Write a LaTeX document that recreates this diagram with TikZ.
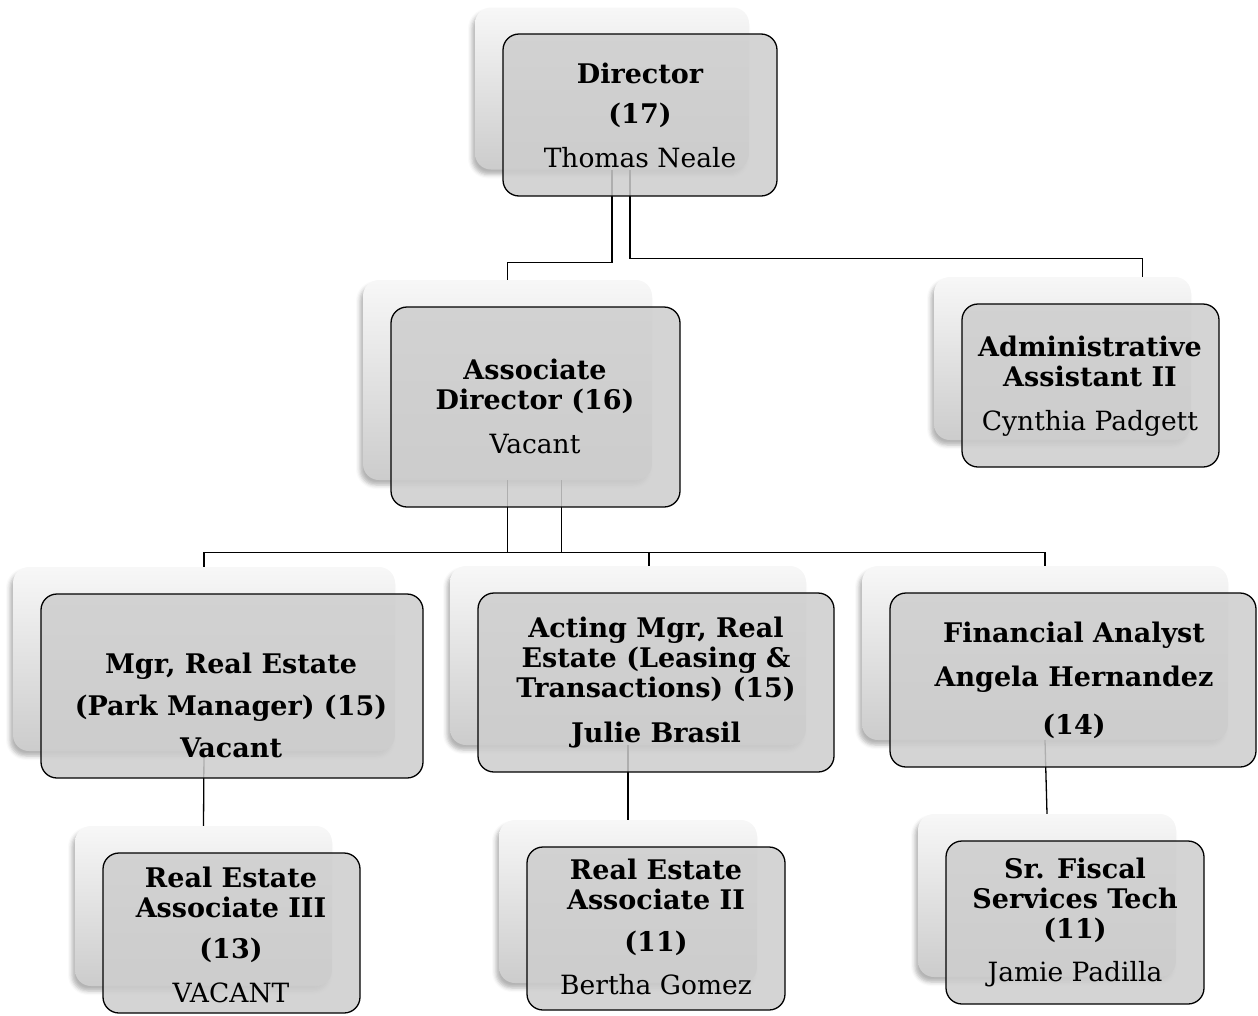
\documentclass[tikz,border=0pt]{standalone}
\usepackage{fontspec}
\setmainfont{DejaVu Serif}
\usetikzlibrary{shadows.blur}
\definecolor{boxfill}{HTML}{CDCDCD}
\newcommand\pname[1]{{\fontsize{26.5}{30}\selectfont\mdseries #1}}
\begin{document}
\begin{tikzpicture}[x=1pt,y=-1pt,
  ghost/.style={rectangle, rounded corners=16pt, inner sep=0pt, draw=none,
    top color=white!97!black, middle color=white!94!black, bottom color=white!80!black,
    blur shadow={shadow xshift=-3pt, shadow yshift=-5pt, shadow blur radius=4pt, shadow opacity=30}},
  front/.style={rectangle, rounded corners=16pt, inner sep=0pt, draw=black, line width=1.3pt,
    fill=boxfill, fill opacity=0.85},
  link/.style={draw=black, line width=1.3pt},
  lbl/.style={align=center, inner sep=0pt, text=black,
    font=\fontsize{27}{30}\selectfont\bfseries}]
\useasboundingbox (0,0) rectangle (1258,1015);

% back plates of the boxes
\node[ghost, minimum width=274, minimum height=162] (dirG)  at (612,88.5) {};
\node[ghost, minimum width=289, minimum height=200] (adirG) at (507.5,380) {};
\node[ghost, minimum width=257, minimum height=163] (admG)  at (1062.5,358.5) {};
\node[ghost, minimum width=382, minimum height=184] (mgrG)  at (204,659) {};
\node[ghost, minimum width=356, minimum height=179] (actG)  at (628,655.5) {};
\node[ghost, minimum width=366, minimum height=174] (finG)  at (1045,653) {};
\node[ghost, minimum width=257, minimum height=160] (r3G)   at (203.5,906) {};
\node[ghost, minimum width=258, minimum height=163] (r2G)   at (628,901.5) {};
\node[ghost, minimum width=258, minimum height=163] (fisG)  at (1047,895.5) {};

% reporting lines
\draw[link] (dirG.south) -- ++(0,93) -| (adirG.north);
\draw[link] ([xshift=18pt]dirG.south) -- ++(0,89) -| ([xshift=80pt]admG.north);
\draw[link] (adirG.south) -- ++(0,72) -| (mgrG.north);
\draw[link] ([xshift=54pt]adirG.south) -- ++(0,72) -| ([xshift=21pt]actG.north);
\draw[link] ([xshift=54pt]adirG.south) -- ++(0,72) -| (finG.north);
\draw[link] (adirG.south) ++(0,72) -- ++(54,0);
\draw[link] (mgrG.south) -- (r3G.north);
\draw[link] (actG.south) -- (r2G.north);
\draw[link] (finG.south) -- (fisG.north);

% front boxes
\node[front, minimum width=274, minimum height=162] (dir)  at (640,115) {};
\node[front, minimum width=289, minimum height=200] (adir) at (535.5,407) {};
\node[front, minimum width=257, minimum height=163] (adm)  at (1090.5,385.5) {};
\node[front, minimum width=382, minimum height=184] (mgr)  at (232,686) {};
\node[front, minimum width=356, minimum height=179] (act)  at (656,682.5) {};
\node[front, minimum width=366, minimum height=174] (fin)  at (1073,680) {};
\node[front, minimum width=257, minimum height=160] (r3)   at (231.5,933) {};
\node[front, minimum width=258, minimum height=163] (r2)   at (656,928.5) {};
\node[front, minimum width=258, minimum height=163] (fis)  at (1075,922.5) {};

% titles and names
\node[lbl] (dirT) at (640,115) {Director\\[10pt](17)\\[14pt]\pname{Thomas Neale}};
\node[lbl] (adirT) at (535,406) {Associate\\Director (16)\\[14pt]\pname{Vacant}};
\node[lbl] (admT) at (1090,386) {Administrative\\Assistant II\\[14pt]\pname{Cynthia Padgett}};
\node[lbl] (mgrT) at (231,705) {Mgr, Real Estate\\[12pt](Park Manager) (15)\\[12pt]Vacant};
\node[lbl] (actT) at (656,683) {Acting Mgr, Real\\Estate (Leasing \&\\Transactions) (15)\\[15pt]Julie Brasil};
\node[lbl] (finT) at (1074,680) {Financial Analyst\\[14pt]Angela Hernandez\\[18pt](14)};
\node[lbl] (r3T) at (231,935) {Real Estate\\Associate III\\[11pt](13)\\[14pt]\pname{VACANT}};
\node[lbl] (r2T) at (656,927) {Real Estate\\Associate II\\[12pt](11)\\[13pt]\pname{Bertha Gomez}};
\node[lbl] (fisT) at (1075,922) {Sr. Fiscal\\Services Tech\\(11)\\[13pt]\pname{Jamie Padilla}};
\end{tikzpicture}
\end{document}
